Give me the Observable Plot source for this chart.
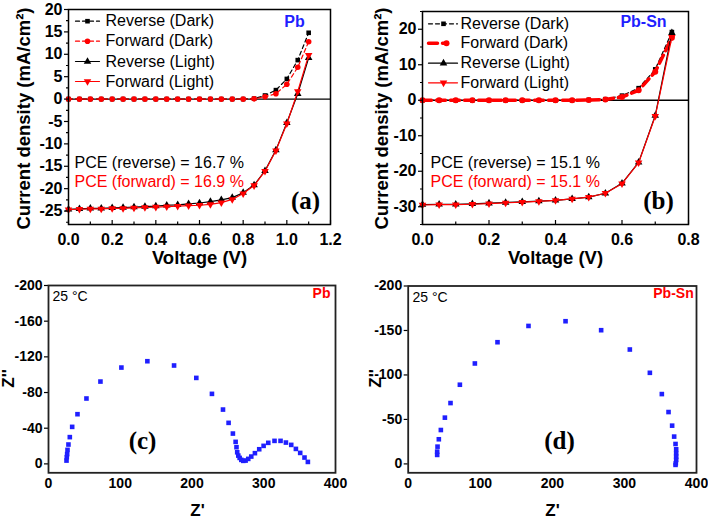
<!DOCTYPE html>
<html><head><meta charset="utf-8">
<script src="https://cdn.jsdelivr.net/npm/d3@7"></script>
<script src="https://cdn.jsdelivr.net/npm/@observablehq/plot@0.6"></script>
<style>
body{margin:0;background:#fff;}
#wrap{position:relative;width:708px;height:521px;overflow:hidden;background:#fff;}
#wrap > svg{position:absolute;max-width:none;}
</style></head><body><div id="wrap"></div>
<script>
const FONT = "'Liberation Sans', Arial, Helvetica, sans-serif";
const SERIF = "'Liberation Serif', 'Times New Roman', serif";
const RED = "#ff0000", BLUE = "#1f1fff", BLACK = "#000000";

// ---------- Panel (a): Pb J-V ----------
const voltA = [0.00,0.05,0.10,0.15,0.20,0.25,0.30,0.35,0.40,0.45,0.50,0.55,0.60,0.65,0.70,0.75,0.80,0.85,0.90,0.95,1.00,1.05,1.10];
const jRevDarkA  = [0,0,0,0,0,0,0,0,0,0,0,0,0,0,0,0,0,0.1,0.8,2.0,4.5,8.7,14.8];
const jFwdDarkA  = [0,0,0,0,0,0,0,0,0,0,0,0,0,0,0,0,0,0.05,0.5,1.2,3.3,7.1,12.8];
const jRevLightA = [-24.6,-24.5,-24.4,-24.4,-24.3,-24.2,-24.1,-24.0,-23.9,-23.7,-23.6,-23.4,-23.2,-22.9,-22.5,-22.0,-20.9,-19.2,-16.0,-11.4,-5.3,1.2,9.2];
const jFwdLightA = [-24.7,-24.6,-24.5,-24.5,-24.4,-24.4,-24.3,-24.2,-24.1,-24.0,-23.9,-23.8,-23.7,-23.5,-23.1,-22.4,-21.1,-19.3,-16.1,-11.5,-5.5,1.7,9.8];
const xTicksA = [0,0.2,0.4,0.6,0.8,1.0,1.2];
const xMinorA = [0.1,0.3,0.5,0.7,0.9,1.1];
const yTicksA = [-25,-20,-15,-10,-5,0,5,10,15,20];
const yMinorA = [-27.5,-22.5,-17.5,-12.5,-7.5,-2.5,2.5,7.5,12.5,17.5];
const pceA = ["PCE (reverse) = 16.7 %", "PCE (forward) = 16.9 %"];

// ---------- Panel (b): Pb-Sn J-V ----------
const voltB = [0.00,0.05,0.10,0.15,0.20,0.25,0.30,0.35,0.40,0.45,0.50,0.55,0.60,0.65,0.70,0.75];
const jRevDarkB  = [0,0,0,0,0,0,0,0,0,0,0.1,0.3,1.3,3.4,8.7,19.2];
const jFwdDarkB  = [0,0,0,0,0,0,0,0,0,0,0.05,0.2,0.9,2.8,8.0,17.6];
const jRevLightB = [-29.4,-29.3,-29.3,-29.2,-29.0,-28.8,-28.6,-28.4,-28.2,-27.8,-27.3,-26.2,-23.4,-17.5,-4.3,19.0];
const jFwdLightB = [-29.5,-29.4,-29.4,-29.3,-29.1,-28.9,-28.7,-28.5,-28.2,-27.8,-27.3,-26.2,-23.5,-17.6,-4.5,17.8];
const xTicksB = [0,0.2,0.4,0.6,0.8];
const xMinorB = [0.1,0.3,0.5,0.7];
const yTicksB = [-30,-20,-10,0,10,20];
const yMinorB = [-35,-25,-15,-5,5,15,25];
const pceB = ["PCE (reverse) = 15.1 %", "PCE (forward) = 15.1 %"];

const legendNames = ["Reverse (Dark)", "Forward (Dark)", "Reverse (Light)", "Forward (Light)"];

// ---------- Panel (c): Pb Nyquist ----------
const zReC = [25.1,25.5,26.0,26.5,27.8,29.7,33.0,40.4,52.9,72.4,101.6,137.8,175.0,206.0,227.8,243.2,251.0,257.0,260.8,262.0,263.0,264.5,266.4,268.7,271.5,274.7,278.4,282.6,287.7,293.7,299.8,306.3,315.0,323.4,330.9,338.3,344.8,350.8,356.8,361.5];
const zImC = [-3.7,-7.5,-11.0,-15.7,-21.7,-30.0,-41.5,-55.7,-73.3,-92.3,-108.0,-115.1,-110.3,-96.4,-78.5,-60.9,-46.0,-34.0,-24.7,-18.7,-13.0,-9.3,-6.7,-4.5,-3.4,-3.7,-5.6,-8.2,-12.0,-16.4,-20.2,-23.6,-25.8,-25.8,-23.9,-21.3,-16.8,-12.3,-7.1,-2.2];
const yTicksC = [-200,-160,-120,-80,-40,0];

// ---------- Panel (d): Pb-Sn Nyquist ----------
const zReD = [40.2,40.2,40.7,42.5,45.3,50.9,58.7,71.7,92.5,123.9,166.9,218.3,267.7,307.5,335.3,351.9,361.2,366.2,369.0,370.9,371.8,371.8,371.8,371.8,371.3,370.9];
const zImD = [-10.1,-13.8,-19.4,-27.7,-38.1,-52.0,-68.4,-89.0,-112.9,-136.8,-155.1,-160.4,-150.3,-128.6,-102.4,-78.5,-58.3,-43.0,-30.7,-22.4,-16.4,-12.0,-8.2,-4.5,-0.7,1.1];
const yTicksD = [-200,-150,-100,-50,0];
const xTicksZ = [0,100,200,300,400];

// ---------- helpers ----------
const triangleDown = {
  draw(ctx, size) {
    const y = -Math.sqrt(size / (Math.sqrt(3) * 3));
    ctx.moveTo(0, -y * 2);
    ctx.lineTo(-Math.sqrt(3) * y, y);
    ctx.lineTo(Math.sqrt(3) * y, y);
    ctx.closePath();
  }
};
const rows = (xs, ys) => xs.map((x, i) => ({x, y: ys[i]}));
function inv(L) {
  const fw = L.W - L.ml - L.mr, fh = L.H - L.mt - L.mb;
  return {
    fx: px => L.x[0] + (px - L.ml) / fw * (L.x[1] - L.x[0]),
    fy: py => L.y[1] - (py - L.mt) / fh * (L.y[1] - L.y[0]),
    fh
  };
}
function label(fx, fy, px, py, text, o = {}) {
  return Plot.text([text], {x: fx(px), y: fy(py), text: d => d, fontFamily: FONT, fontSize: 16,
    fontWeight: "normal", fill: BLACK, textAnchor: "middle", ...o});
}
function place(svg, left, top) {
  svg.style.left = left + "px";
  svg.style.top = top + "px";
  document.getElementById("wrap").appendChild(svg);
}

// ---------- J-V panels ----------
function jvPanel(L, volt, series, xt, xm, yt, ym, pce, tag, letter, lg) {
  const {fx, fy, fh} = inv(L);
  const marks = [
    Plot.ruleY([0], {stroke: BLACK, strokeWidth: 1.3}),
  ];
  for (const s of series) {
    marks.push(Plot.line(rows(volt, s.ys), {x: "x", y: "y", stroke: s.stroke, strokeWidth: s.sw, strokeDasharray: s.dash}));
    marks.push(Plot.dot(rows(volt, s.ys), {x: "x", y: "y", symbol: s.symbol, fill: s.stroke, r: s.r}));
  }
  // legend
  series.forEach((s, i) => {
    const yy = fy(lg.rows[i]);
    marks.push(Plot.line([{x: fx(lg.x0), y: yy}, {x: fx(s.lx1 ?? lg.x1), y: yy}], {x: "x", y: "y", stroke: s.stroke, strokeWidth: s.sw, strokeDasharray: s.ldash ?? s.dash}));
    marks.push(Plot.dot([{x: fx(s.lsym ?? lg.sym), y: yy}], {x: "x", y: "y", symbol: s.symbol, fill: s.stroke, r: s.r}));
    marks.push(label(fx, fy, lg.tx, lg.rows[i], s.name, {textAnchor: "start"}));
  });
  marks.push(
    label(fx, fy, lg.px, 162, pce[0], {textAnchor: "start"}),
    label(fx, fy, lg.px, 181, pce[1], {textAnchor: "start", fill: RED}),
    label(fx, fy, lg.tagX, 21, tag, {fontWeight: "bold", fill: BLUE}),
    label(fx, fy, lg.letX, 200, letter, {fontWeight: "bold", fontFamily: SERIF, fontSize: 25}),
    label(fx, fy, lg.xlabX, 258, "Voltage (V)", {fontWeight: "bold", fontSize: 18.5}),
    label(fx, fy, lg.ylabX, 118, "Current density (mA/cm²)", {fontWeight: "bold", fontSize: 18.5, rotate: -90}),
    Plot.ruleX(xt, {stroke: BLACK, strokeWidth: 1.2, insetTop: fh - 4}),
    Plot.ruleX(xm, {stroke: BLACK, strokeWidth: 1.2, insetTop: fh - 2.5}),
    Plot.axisX({ticks: xt, tickSize: 0, tickPadding: 9, tickFormat: d3.format(".1f"), label: null, fontSize: 16, fontWeight: "bold"}),
    Plot.axisY({ticks: yt, tickSize: 4, tickPadding: 2, tickFormat: d => String(d), label: null, fontSize: 16, fontWeight: "bold", strokeWidth: 1.2}),
    Plot.axisY({ticks: ym, tickSize: 2, tickFormat: () => "", label: null, strokeWidth: 1.2}),
    Plot.frame({stroke: BLACK, strokeWidth: 1.5})
  );
  return Plot.plot({
    width: L.W, height: L.H, marginLeft: L.ml, marginRight: L.mr, marginTop: L.mt, marginBottom: L.mb,
    x: {domain: L.x}, y: {domain: L.y},
    style: {fontFamily: FONT, fontSize: "16px", fontWeight: "bold", color: BLACK, background: "transparent", overflow: "visible"},
    marks
  });
}

const LA = {W: 354, H: 270, ml: 68, mr: 24, mt: 9, mb: 46, x: [0, 1.2], y: [-28, 20]};
const seriesA = [
  {name: legendNames[0], ys: jRevDarkA, stroke: BLACK, dash: "4,3", sw: 1.2, symbol: "square", r: 2.6},
  {name: legendNames[1], ys: jFwdDarkA, stroke: RED, dash: "4,3", sw: 1.2, symbol: "circle", r: 2.8},
  {name: legendNames[2], ys: jRevLightA, stroke: BLACK, dash: null, sw: 1.2, symbol: "triangle", r: 2.8},
  {name: legendNames[3], ys: jFwdLightA, stroke: RED, dash: null, sw: 1.2, symbol: triangleDown, r: 2.8}
];
place(jvPanel(LA, voltA, seriesA, xTicksA, xMinorA, yTicksA, yMinorA, pceA, "Pb", "(a)",
  {rows: [20.7, 40.7, 61, 81], x0: 75, x1: 99, sym: 87, tx: 105, px: 74, tagX: 294, letX: 305, xlabX: 199, ylabX: 24}), 0, 0);

const LB = {W: 354, H: 270, ml: 68, mr: 20, mt: 11, mb: 46, x: [0, 0.8], y: [-35, 25]};
const seriesB = [
  {name: legendNames[0], ys: jRevDarkB, stroke: BLACK, dash: "4,3", sw: 1.2, symbol: "square", r: 2.6},
  {name: legendNames[1], ys: jFwdDarkB, stroke: RED, dash: "9,5", sw: 3.5, symbol: "circle", r: 3, ldash: null, lx1: 92, lsym: 92},
  {name: legendNames[2], ys: jRevLightB, stroke: BLACK, dash: null, sw: 1.2, symbol: "triangle", r: 2.8},
  {name: legendNames[3], ys: jFwdLightB, stroke: RED, dash: null, sw: 1.2, symbol: triangleDown, r: 2.8}
];
place(jvPanel(LB, voltB, seriesB, xTicksB, xMinorB, yTicksB, yMinorB, pceB, "Pb-Sn", "(b)",
  {rows: [23.3, 42.7, 62.7, 82.3], x0: 74, x1: 103, sym: 89, tx: 106, px: 76, tagX: 289, letX: 304, xlabX: 201, ylabX: 28}), 354, 0);

// ---------- Nyquist panels ----------
function zPanel(L, re, im, yt, tag, letter, p) {
  const {fx, fy} = inv(L);
  return Plot.plot({
    width: L.W, height: L.H, marginLeft: L.ml, marginRight: L.mr, marginTop: L.mt, marginBottom: L.mb,
    x: {domain: L.x}, y: {domain: L.y},
    style: {fontFamily: FONT, fontSize: "14px", fontWeight: "bold", color: BLACK, background: "transparent", overflow: "visible"},
    marks: [
      Plot.dot(rows(re, im), {x: "x", y: "y", symbol: "square", fill: BLUE, r: 2.6}),
      label(fx, fy, p.tX, p.tY, "25 °C", {textAnchor: "start", fontSize: 14}),
      label(fx, fy, p.tagX, 23, tag, {fontWeight: "bold", fill: RED, fontSize: 14}),
      label(fx, fy, p.letX, 170, letter, {fontWeight: "bold", fontFamily: SERIF, fontSize: 25}),
      label(fx, fy, p.xlabX, 240, "Z'", {fontWeight: "bold", fontSize: 17}),
      label(fx, fy, p.ylabX, 108, "Z''", {fontWeight: "bold", fontSize: 17, rotate: -90}),
      Plot.axisX({ticks: xTicksZ, tickSize: 0, tickPadding: 5, tickFormat: d => String(d), label: null, fontSize: 14, fontWeight: "bold"}),
      Plot.axisY({ticks: yt, tickSize: 4, tickPadding: 2, tickFormat: d => String(d), label: null, fontSize: 14, fontWeight: "bold", strokeWidth: 1.2}),
      Plot.frame({stroke: "#222", strokeWidth: 1.8})
    ]
  });
}

const LC = {W: 354, H: 251, ml: 48, mr: 19, mt: 15, mb: 48.7, x: [0, 400], y: [10, -200]};
place(zPanel(LC, zReC, zImC, yTicksC, "Pb", "(c)", {tX: 52, tY: 26, tagX: 321, letX: 142, xlabX: 197, ylabX: 8}), 0, 270);

const LD = {W: 354, H: 251, ml: 53.7, mr: 12, mt: 15.5, mb: 48.7, x: [0, 400], y: [10, -200]};
place(zPanel(LD, zReD, zImD, yTicksD, "Pb-Sn", "(d)", {tX: 58, tY: 27, tagX: 319, letX: 205, xlabX: 198, ylabX: 21}), 354, 270);
</script></body></html>
